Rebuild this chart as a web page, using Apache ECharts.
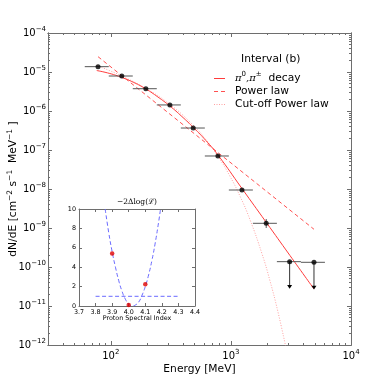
<!DOCTYPE html>
<html><head><meta charset="utf-8">
<script src="https://cdn.jsdelivr.net/npm/echarts@6/dist/echarts.min.js"></script>
<style>html,body{margin:0;padding:0;background:#fff}#c{width:379px;height:385px}</style>
</head><body><div id="c"></div>
<script>
// ---------------- data ----------------
// detected flux points (MeV, cm^-2 s^-1 MeV^-1)
const pointE      = [78.3, 123.5, 195.9, 310.5, 485.3, 779.8, 1236, 1968];
const pointElow   = [60.7, 96.2, 152.4, 241.5, 382.8, 606.7, 961.6, 1524];
const pointEhigh  = [96.2, 152.4, 241.5, 382.8, 606.7, 961.6, 1524, 2415];
const pointF      = [1.37e-5, 7.89e-6, 3.73e-6, 1.43e-6, 3.66e-7, 7.02e-8, 9.42e-9, 1.32e-9];
const pointFlow   = [1.37e-5, 7.89e-6, 3.73e-6, 1.43e-6, 3.66e-7, 7.02e-8, 9.42e-9, 1.00e-9];
const pointFhigh  = [1.37e-5, 7.89e-6, 3.73e-6, 1.43e-6, 3.66e-7, 7.02e-8, 9.42e-9, 1.70e-9];
// upper limits
const ulE     = [3083, 4918];
const ulElow  = [2415, 3828];
const ulEhigh = [3828, 6067];
const ulF     = [1.37e-10, 1.32e-10];
const ulTip   = [2.75e-11, 2.65e-11];
// model curves
const pionE = [76.4, 98.1, 123.5, 155.5, 195.9, 246.6, 310.5, 390.9, 492, 619, 780, 1236, 1958, 3103, 4918];
const pionF = [1.09e-5, 9.16e-6, 7.23e-6, 5.38e-6, 3.67e-6, 2.29e-6, 1.34e-6, 7.22e-7, 3.66e-7, 1.75e-7, 7.45e-8, 1.03e-8, 1.43e-9, 1.97e-10, 2.73e-11];
const plE = [78.3, 619, 4918];
const plF = [2.47e-5, 1.52e-7, 9.27e-10];
const coE = [76.4, 98.1, 123.5, 195.9, 310.5, 492, 619, 780, 981, 1189, 1439, 1811, 2113, 2464, 2873];
const coF = [1.476e-5, 1.079e-5, 7.89e-6, 3.78e-6, 1.476e-6, 4.15e-7, 1.837e-7, 6.93e-8, 2.14e-8, 6.62e-9, 1.66e-9, 2.23e-10, 4.48e-11, 7.10e-12, 8.5e-13];
// inset: likelihood scan
const scanIndex = [3.9, 4.0, 4.1];
const scanTS    = [5.4, 0.1, 2.25];
const fitIndex  = [3.858, 3.88, 3.90, 3.92, 3.94, 3.96, 3.98, 4.00, 4.02, 4.04, 4.06, 4.08, 4.10, 4.12, 4.14, 4.16, 4.18, 4.192];
const fitTS     = [10.0, 7.5, 5.6, 4.0, 2.6, 1.5, 0.7, 0.2, 0.0, 0.1, 0.4, 1.1, 2.0, 3.2, 4.7, 6.5, 8.6, 10.0];
const levelIndex = [3.8, 4.3];
const levelTS    = [1, 1];
// axis ticks
const xMajorTicks = [100, 1000, 10000];
const yMajorTicks = [1e-12, 1e-11, 1e-10, 1e-9, 1e-8, 1e-7, 1e-6, 1e-5, 1e-4];
const xRange = [30, 10000];
const yRange = [1e-12, 1e-4];
const insetXRange = [3.7, 4.4];
const insetYRange = [0, 10];

// ---------------- build ----------------
const L = Math.log10;
const xMin = L(xRange[0]), xMax = L(xRange[1]);
const yMin = L(yRange[0]), yMax = L(yRange[1]);
const xMajor = xMajorTicks.map(L);
const yMajor = yMajorTicks.map(L);
const xMinor = [], yMinor = [];
[10, 100, 1000].forEach(d => { for (let k = 2; k <= 9; k++) { const v = k * d; if (v > xRange[0] && v < xRange[1]) xMinor.push(L(v)); } });
yMajorTicks.slice(0, -1).forEach(d => { for (let k = 2; k <= 9; k++) yMinor.push(L(k * d)); });

const pairs = (E, F) => E.map((e, i) => [L(e), L(F[i])]);
const AX = {color: '#6e6e6e', width: 1};
const FONT = 'DejaVu Sans';
const powRich = {
  b: {fontSize: 10, lineHeight: 14, color: '#000', fontFamily: FONT},
  s: {fontSize: 7, lineHeight: 8, verticalAlign: 'top', color: '#000', fontFamily: FONT}
};
const powLabel = v => { const e = Math.round(v); return '{b|10}{s|' + (e < 0 ? '\u2212' + (-e) : e) + '}'; };

function tickAxis(base, pos, ticks, len, labels) {
  const tick = {show: true, inside: true, length: len, lineStyle: AX};
  if (ticks) tick.customValues = ticks;
  return Object.assign({
    type: 'value', position: pos, splitLine: {show: false},
    axisLine: {show: true, onZero: false, lineStyle: AX},
    axisTick: tick,
    axisLabel: labels || {show: false}
  }, base);
}

const mainX = {gridIndex: 0, min: xMin, max: xMax};
const mainY = {gridIndex: 0, min: yMin, max: yMax};
const insX = {gridIndex: 1, min: insetXRange[0], max: insetXRange[1], interval: 0.1};
const insY = {gridIndex: 1, min: insetYRange[0], max: insetYRange[1], interval: 2};
const xAxes = [
  tickAxis(Object.assign({name: 'Energy [MeV]', nameLocation: 'middle', nameGap: 19, nameMoveOverlap: false,
    nameTextStyle: {fontSize: 10.7, color: '#000', fontFamily: FONT}}, mainX), 'bottom', xMajor, 4,
    {customValues: xMajor, formatter: powLabel, margin: 4, rich: powRich}),
  tickAxis(mainX, 'bottom', xMinor, 2),
  tickAxis(mainX, 'top', xMajor, 4),
  tickAxis(mainX, 'top', xMinor, 2),
  tickAxis(Object.assign({name: 'Proton Spectral Index', nameLocation: 'middle', nameGap: 9, nameMoveOverlap: false,
    nameTextStyle: {fontSize: 6.4, color: '#000', fontFamily: FONT}}, insX),
    'bottom', null, 3, {formatter: v => v.toFixed(1), fontSize: 6.4, color: '#000', margin: 3, fontFamily: FONT}),
  tickAxis(insX, 'top', null, 3)
];

const yAxes = [
  tickAxis(Object.assign({name: '{n|dN/dE [cm}{s|\u22122}{n| s}{s|\u22121}{n|  MeV}{s|\u22121}{n| ]}',
    nameLocation: 'middle', nameGap: 28, nameRotate: 90, nameMoveOverlap: false,
    nameTextStyle: {rich: {n: {fontSize: 10.7, lineHeight: 14, color: '#000', fontFamily: FONT},
                           s: {fontSize: 7.5, lineHeight: 8, verticalAlign: 'top', color: '#000', fontFamily: FONT}}}}, mainY),
    'left', yMajor, 4, {customValues: yMajor, formatter: powLabel, margin: 2, rich: powRich}),
  tickAxis(mainY, 'left', yMinor, 2),
  tickAxis(mainY, 'right', yMajor, 4),
  tickAxis(mainY, 'right', yMinor, 2),
  tickAxis(insY, 'left', null, 3, {fontSize: 6.4, color: '#000', margin: 3, fontFamily: FONT}),
  tickAxis(insY, 'right', null, 3)
];

// error-bar data
const errData = pointE.map((e, i) => [L(e), L(pointF[i]), L(pointElow[i]), L(pointEhigh[i]), L(pointFlow[i]), L(pointFhigh[i])]);
const ulData = ulE.map((e, i) => [L(e), L(ulF[i]), L(ulElow[i]), L(ulEhigh[i]), L(ulTip[i])]);

function renderErr(params, api) {
  const c = api.coord([api.value(0), api.value(1)]);
  const l = api.coord([api.value(2), api.value(1)]);
  const r = api.coord([api.value(3), api.value(1)]);
  const lo = api.coord([api.value(0), api.value(4)]);
  const hi = api.coord([api.value(0), api.value(5)]);
  const st = {stroke: '#555', lineWidth: 1};
  const ch = [{type: 'line', shape: {x1: l[0], y1: c[1], x2: r[0], y2: c[1]}, style: st}];
  if (Math.abs(lo[1] - hi[1]) > 0.5) ch.push({type: 'line', shape: {x1: c[0], y1: lo[1], x2: c[0], y2: hi[1]}, style: st});
  return {type: 'group', children: ch};
}
function renderUL(params, api) {
  const c = api.coord([api.value(0), api.value(1)]);
  const l = api.coord([api.value(2), api.value(1)]);
  const r = api.coord([api.value(3), api.value(1)]);
  const t = api.coord([api.value(0), api.value(4)]);
  const st = {stroke: '#555', lineWidth: 1};
  return {type: 'group', children: [
    {type: 'line', shape: {x1: l[0], y1: c[1], x2: r[0], y2: c[1]}, style: st},
    {type: 'line', shape: {x1: c[0], y1: c[1], x2: c[0], y2: t[1] - 3}, style: {stroke: '#333', lineWidth: 1}},
    {type: 'polygon', shape: {points: [[t[0] - 2.5, t[1] - 3.8], [t[0] + 2.5, t[1] - 3.8], [t[0], t[1]]]}, style: {fill: '#000'}}
  ]};
}

const PION = '\u03c0\u2070,\u03c0\u00b1 decay';
const option = {
  animation: false,
  backgroundColor: '#fff',
  grid: [
    {left: 48, top: 33, width: 303, height: 312, outerBoundsMode: 'none', containLabel: false},
    {left: 79, top: 209, width: 116, height: 97, outerBoundsMode: 'none', containLabel: false,
     show: true, backgroundColor: '#fff', borderWidth: 0}
  ],
  title: [
    {text: 'Interval (b)', left: 241, top: 54, padding: 0,
     textStyle: {fontSize: 10.7, fontWeight: 'normal', color: '#000', fontFamily: FONT}},
    {text: '\u22122\u0394log(\u2112)', left: 137, top: 198.5, textAlign: 'center', padding: 0,
     textStyle: {fontSize: 7.5, fontWeight: 'normal', color: '#000', fontFamily: 'DejaVu Serif'}}
  ],
  legend: {
    orient: 'vertical', left: 214, top: 71, padding: 0, itemWidth: 11, itemHeight: 1, itemGap: 2,
    itemStyle: {borderWidth: 0},
    data: [
      {name: PION, icon: 'rect', itemStyle: {color: '#ff3b3b'}},
      {name: 'Power law', icon: 'path://M0,0h4v1h-4z M7,0h4v1h-4z', itemStyle: {color: '#ff5050'}},
      {name: 'Cut-off Power law', icon: 'path://M0,0h1v1h-1z M2.5,0h1v1h-1z M5,0h1v1h-1z M7.5,0h1v1h-1z M10,0h1v1h-1z', itemStyle: {color: '#ffa0a0'}}
    ],
    formatter: n => n === PION ? '{i|\u03c0}{s|0}{i|,\u03c0}{s|\u00b1}{n|  decay}' : '{n|' + n + '}',
    textStyle: {fontSize: 10.7, color: '#000', fontFamily: FONT, padding: [0, 0, 0, 5],
      rich: {
        n: {fontSize: 10.7, lineHeight: 15, color: '#000', fontFamily: FONT},
        i: {fontSize: 10, lineHeight: 15, color: '#000', fontFamily: 'DejaVu Serif', fontStyle: 'italic'},
        s: {fontSize: 7, lineHeight: 8, verticalAlign: 'top', color: '#000', fontFamily: FONT}
      }}
  },
  xAxis: xAxes,
  yAxis: yAxes,
  series: [
    {name: PION, type: 'line', xAxisIndex: 0, yAxisIndex: 0, data: pairs(pionE, pionF), smooth: true, symbol: 'none',
     lineStyle: {color: '#ff3b3b', width: 1}, itemStyle: {color: '#ff3b3b'}, z: 3},
    {name: 'Power law', type: 'line', xAxisIndex: 0, yAxisIndex: 0, data: pairs(plE, plF), symbol: 'none',
     lineStyle: {color: '#ff5050', width: 1, type: [4, 3]}, itemStyle: {color: '#ff5050'}, z: 3},
    {name: 'Cut-off Power law', type: 'line', xAxisIndex: 0, yAxisIndex: 0, data: pairs(coE, coF), smooth: true, symbol: 'none',
     lineStyle: {color: '#ffa0a0', width: 1, type: [1, 1.6]}, itemStyle: {color: '#ffa0a0'}, z: 2},
    {type: 'custom', xAxisIndex: 0, yAxisIndex: 0, data: errData, renderItem: renderErr, z: 4},
    {type: 'custom', xAxisIndex: 0, yAxisIndex: 0, data: ulData, renderItem: renderUL, z: 4},
    {type: 'scatter', xAxisIndex: 0, yAxisIndex: 0, data: pairs(pointE, pointF).concat(pairs(ulE, ulF)), symbolSize: 5,
     itemStyle: {color: '#000'}, z: 5},
    {type: 'line', xAxisIndex: 4, yAxisIndex: 4, data: fitIndex.map((x, i) => [x, fitTS[i]]), symbol: 'none', smooth: true,
     lineStyle: {color: '#6a6aff', width: 1, type: [4, 2.5]}},
    {type: 'line', xAxisIndex: 4, yAxisIndex: 4, data: levelIndex.map((x, i) => [x, levelTS[i]]), symbol: 'none',
     lineStyle: {color: '#6a6aff', width: 1, type: [4, 2.5]}},
    {type: 'scatter', xAxisIndex: 4, yAxisIndex: 4, data: scanIndex.map((x, i) => [x, scanTS[i]]), symbolSize: 4.5,
     itemStyle: {color: '#e00000'}, z: 5}
  ]
};
const chart = echarts.init(document.getElementById('c'));
chart.setOption(option);
</script>
</body></html>
